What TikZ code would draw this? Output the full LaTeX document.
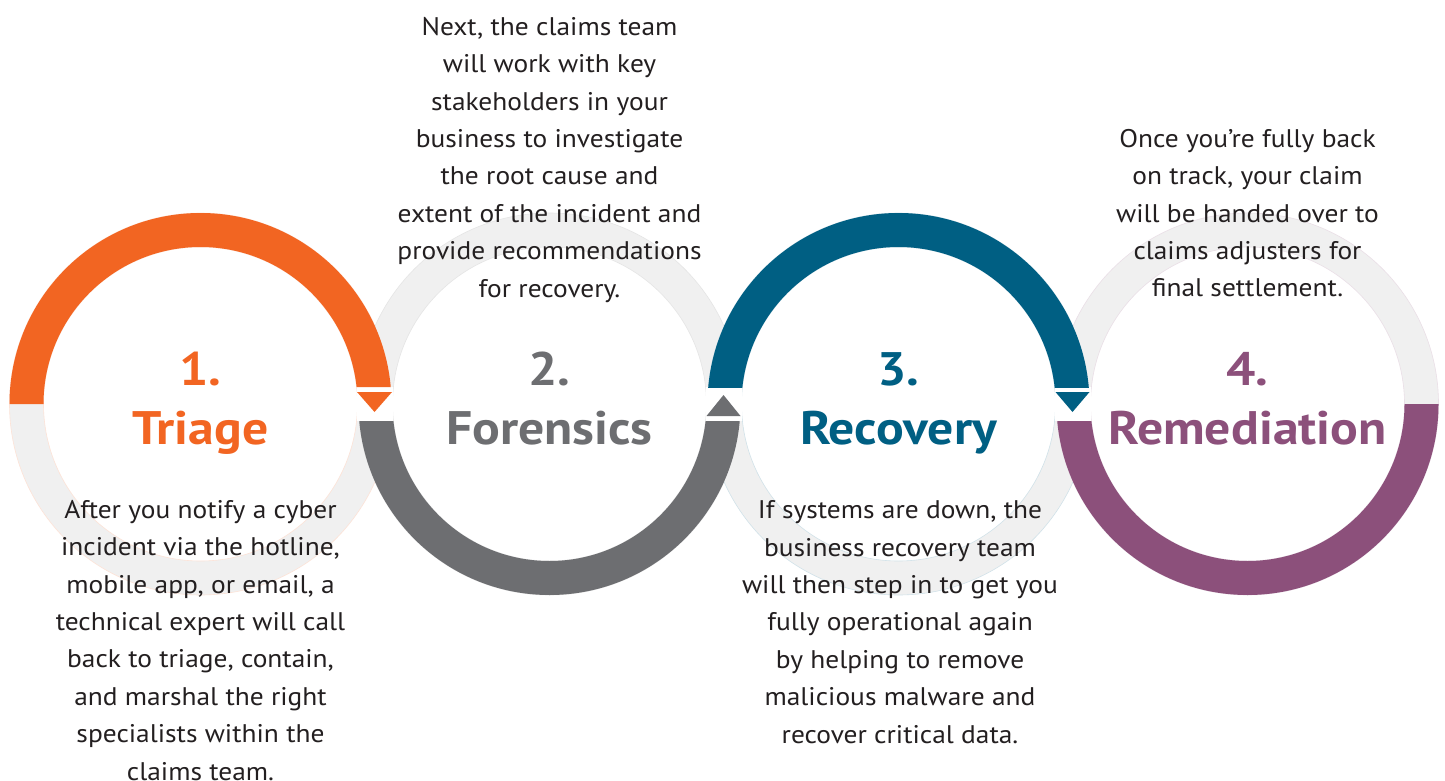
\documentclass[tikz,border=0pt]{standalone}
\usepackage{fontspec}
\setmainfont{PT Sans}[FakeStretch=1.075]
\newfontfamily\titlefont{PT Sans}[FakeStretch=1.1]
\definecolor{corange}{HTML}{F26522}
\definecolor{cgray}{HTML}{6D6E71}
\definecolor{cblue}{HTML}{005F83}
\definecolor{cpurple}{HTML}{8C507B}
\definecolor{clight}{HTML}{F0F0F0}
\definecolor{ctext}{HTML}{231F20}
\tikzset{
  bodytext/.style={inner sep=0pt, align=center, text=ctext, anchor=north,
    font=\fontsize{25.5}{37.4}\selectfont},
  titletext/.style={inner sep=0pt, anchor=base,
    font=\titlefont\fontsize{47}{50}\selectfont\bfseries},
  ringlight/.style={fill=clight, even odd rule},
}
\newcommand\myring[3]{%
  \fill[ringlight] (#1,404) circle[radius=191] (#1,404) circle[radius=157];
  \draw[#2!18, line width=0.6] (#1,404) circle[radius=191];
  \draw[#2!18, line width=0.6] (#1,404) circle[radius=157];
}
\begin{document}
\begin{tikzpicture}[x=1pt,y=-1pt]
\useasboundingbox (0,0) rectangle (1445,781);
\fill[white] (0,0) rectangle (1445,781);
% light rings
\myring{200.5}{corange}{}
\myring{549.5}{cgray}{}
\myring{898.5}{cblue}{}
\myring{1247.5}{cpurple}{}
% white gaps
\fill[white] (357,387) rectangle (392.5,421);
\fill[white] (706,387) rectangle (741.5,421);
\fill[white] (1055,387) rectangle (1090.5,421);
% coloured arcs
\begin{scope}
  \clip (0,200) rectangle (200.5,404) (200.5,200) rectangle (400,387);
  \fill[corange, even odd rule] (200.5,404) circle[radius=191] (200.5,404) circle[radius=157];
\end{scope}
\begin{scope}
  \clip (340,421) rectangle (760,600);
  \fill[cgray, even odd rule] (549.5,404) circle[radius=191] (549.5,404) circle[radius=157];
\end{scope}
\begin{scope}
  \clip (690,200) rectangle (1110,387);
  \fill[cblue, even odd rule] (898.5,404) circle[radius=191] (898.5,404) circle[radius=157];
\end{scope}
\begin{scope}
  \clip (1040,421) rectangle (1247.5,600) (1247.5,404) rectangle (1445,600);
  \fill[cpurple, even odd rule] (1247.5,404) circle[radius=191] (1247.5,404) circle[radius=157];
\end{scope}
% arrow heads
\fill[corange] (357,392) -- (392,392) -- (374.5,412) -- cycle;
\fill[cgray] (706.5,416) -- (740.5,416) -- (723.5,395) -- cycle;
\fill[cblue] (1055.5,392) -- (1089.5,392) -- (1072.5,412) -- cycle;
% titles
\node[titletext, text=corange] (n1) at (200.5,385) {1.};
\node[titletext, text=corange] (h1) at (200.5,444) {Triage};
\node[titletext, text=cgray] (n2) at (549.5,385) {2.};
\node[titletext, text=cgray] (h2) at (549.5,444) {Forensics};
\node[titletext, text=cblue] (n3) at (898.5,385) {3.};
\node[titletext, text=cblue] (h3) at (898.5,444) {Recovery};
\node[titletext, text=cpurple] (n4) at (1247.5,385) {4.};
\node[titletext, text=cpurple] (h4) at (1247.5,444) {Remediation};
% body texts
\node[bodytext] (b1) at (200.5,500) {After you notify a cyber\\incident via the hotline,\\mobile app, or email, a\\technical expert will call\\back to triage, contain,\\and marshal the right\\specialists within the\\claims team.};
\node[bodytext] (b2) at (549.5,17) {Next, the claims team\\will work with key\\stakeholders in your\\business to investigate\\the root cause and\\extent of the incident and\\provide recommendations\\for recovery.};
\node[bodytext] (b3) at (900,500.5) {If systems are down, the\\business recovery team\\will then step in to get you\\fully operational again\\by helping to remove\\malicious malware and\\recover critical data.};
\node[bodytext] (b4) at (1247.5,129) {Once you’re fully back\\on track, your claim\\will be handed over to\\claims adjusters for\\final settlement.};
\end{tikzpicture}
\end{document}
